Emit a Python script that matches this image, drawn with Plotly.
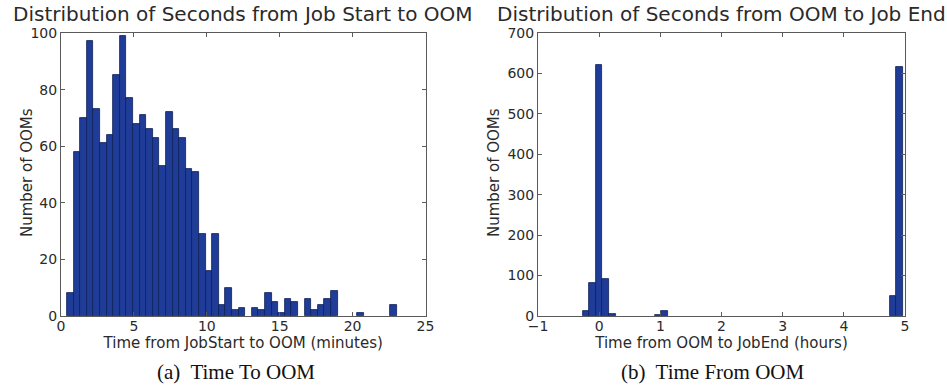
import plotly.graph_objects as go

# ---- Data ----
# Left: time from job start to OOM (minutes), 50 bins
left_bin_start = 0.41
left_bin_width = 0.4527
left_counts = [8, 58, 70, 97, 73, 61, 64, 85, 99, 77,
               68, 71, 66, 63, 53, 72, 66, 63, 52, 51,
               29, 16, 29, 4, 10, 2, 3, 0, 3, 2,
               8, 5, 1, 6, 5, 0, 6, 2, 4, 6,
               9, 0, 0, 0, 1, 0, 0, 0, 0, 4]

# Right: time from OOM to job end (hours), 50 bins
right_bin_start = -0.373
right_bin_width = 0.1067
right_counts = [0, 12, 81, 622, 91, 5, 0, 0, 0, 0,
                0, 0, 3, 12, 0, 0, 0, 0, 0, 0,
                0, 0, 0, 0, 0, 0, 0, 0, 0, 0,
                0, 0, 0, 0, 0, 0, 0, 0, 0, 0,
                0, 0, 0, 0, 0, 0, 0, 0, 49, 617]

left_title = "Distribution of Seconds from Job Start to OOM"
right_title = "Distribution of Seconds from OOM to Job End"
left_xlabel = "Time from JobStart to OOM (minutes)"
right_xlabel = "Time from OOM to JobEnd (hours)"
ylabel = "Number of OOMs"
left_caption = "(a)  Time To OOM"
right_caption = "(b)  Time From OOM"

left_x = [left_bin_start + (i + 0.5) * left_bin_width for i in range(len(left_counts))]
right_x = [right_bin_start + (i + 0.5) * right_bin_width for i in range(len(right_counts))]
# empty bins are not drawn (no zero-height outline)
left_y = [c if c > 0 else None for c in left_counts]
right_y = [c if c > 0 else None for c in right_counts]

BAR = "#1f3c98"
EDGE = "#0e1f55"
AX = "#5a5a5a"
TXT = "#2a2a2a"
FONT = "DejaVu Sans"

fig = go.Figure()
fig.add_trace(go.Bar(x=left_x, y=left_y, width=left_bin_width,
                     marker=dict(color=BAR, line=dict(color=EDGE, width=0.8)),
                     xaxis="x", yaxis="y", showlegend=False))
fig.add_trace(go.Bar(x=right_x, y=right_y, width=right_bin_width,
                     marker=dict(color=BAR, line=dict(color=EDGE, width=0.8)),
                     xaxis="x2", yaxis="y2", showlegend=False))

H = 391.0
W = 947.0
ydom = [1 - 316 / H, 1 - 33 / H]

common = dict(showgrid=False, zeroline=False, showline=True, linecolor=AX, linewidth=1,
              mirror="allticks", ticks="inside", ticklen=4, tickcolor=AX, automargin=False,
              tickfont=dict(family=FONT, size=14, color=TXT))
xcommon = dict(common, ticklabelstandoff=-3)

fig.update_layout(
    width=947, height=391,
    margin=dict(l=0, r=0, t=0, b=0),
    paper_bgcolor="white", plot_bgcolor="white",
    bargap=0,
    xaxis=dict(domain=[61 / W, 425.5 / W], range=[0, 25], dtick=5, anchor="y",
               title=dict(text=left_xlabel, font=dict(family=FONT, size=15, color=TXT), standoff=0),
               **xcommon),
    yaxis=dict(domain=ydom, range=[0, 100], dtick=20, anchor="x", **common),
    xaxis2=dict(domain=[538 / W, 905 / W], range=[-1, 5], dtick=1, anchor="y2",
                title=dict(text=right_xlabel, font=dict(family=FONT, size=15, color=TXT), standoff=0),
                **xcommon),
    yaxis2=dict(domain=ydom, range=[0, 700], dtick=100, anchor="x2", **common),
)

ann = []
for txt, xc in [(left_title, (61 + 425.5) / 2 / W), (right_title, (538 + 905) / 2 / W)]:
    ann.append(dict(text=txt, x=xc, y=1 - 14 / H, xref="paper", yref="paper",
                    xanchor="center", yanchor="middle", showarrow=False,
                    font=dict(family=FONT, size=20, color=TXT)))
for xc in [27 / W, 494 / W]:
    ann.append(dict(text=ylabel, x=xc, y=1 - 173 / H, xref="paper", yref="paper",
                    xanchor="center", yanchor="middle", showarrow=False, textangle=-90,
                    font=dict(family=FONT, size=15, color=TXT)))
for txt, xc in [(left_caption, 236 / W), (right_caption, 713 / W)]:
    ann.append(dict(text=txt, x=xc, y=1 - 372 / H, xref="paper", yref="paper",
                    xanchor="center", yanchor="middle", showarrow=False,
                    font=dict(family="Liberation Serif", size=21, color="#111")))
fig.update_layout(annotations=ann)

fig.write_html("out.html", config={"displayModeBar": False},
               post_script="document.body.style.margin='0';document.body.style.overflow='hidden';")
